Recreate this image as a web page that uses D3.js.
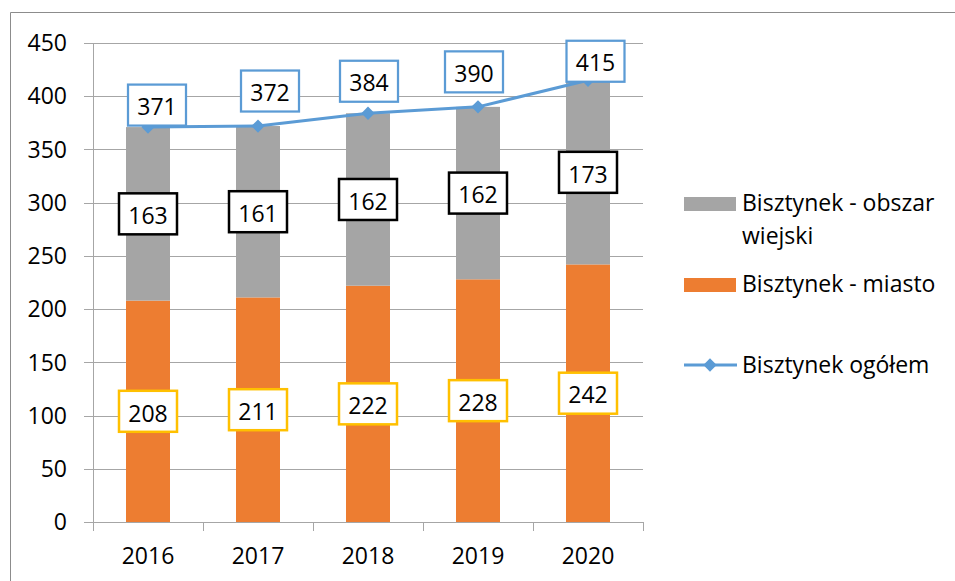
<!DOCTYPE html>
<html>
<head>
<meta charset="utf-8">
<script src="https://cdn.jsdelivr.net/npm/d3@7/dist/d3.min.js"></script>
<style>
  html, body { margin: 0; padding: 0; background: #fff; }
  svg { display: block; font-family: "Open Sans", "Noto Sans", sans-serif; }
</style>
</head>
<body>
<svg id="chart" width="955" height="581"></svg>
<script>
// Population of Bisztynek: town vs rural area, with the overall total
const years = ["2016", "2017", "2018", "2019", "2020"];
const miasto = [208, 211, 222, 228, 242];          // town
const obszarWiejski = [163, 161, 162, 162, 173];   // rural area
const ogolem = [371, 372, 384, 390, 415];          // total
const yTicks = [0, 50, 100, 150, 200, 250, 300, 350, 400, 450];

// legend entries; the rural name wraps onto two lines
const legendRural = ["Bisztynek - obszar", "wiejski"];
const legendTown = "Bisztynek - miasto";
const legendTotal = "Bisztynek ogółem";

// hand-placed offsets (px) of the total labels from their points
const totalLabelNudge = [[9, -22], [12, -35], [1, -32], [-4, -35], [7.5, -19]];

const colors = {
  rural: "#A5A5A5",
  town: "#ED7D31",
  total: "#5B9BD5",
  grid: "#A6A6A6",
  frame: "#8C8C8C",
  ruralBox: "#000000",
  townBox: "#FFC000"
};

const svg = d3.select("#chart");
const fs = 23;

// outer chart frame (top and left edges visible)
svg.append("line").attr("x1", 10.5).attr("x2", 955).attr("y1", 12.5).attr("y2", 12.5)
  .attr("stroke", colors.frame).attr("stroke-width", 1);
svg.append("line").attr("x1", 10.5).attr("x2", 10.5).attr("y1", 12.5).attr("y2", 581)
  .attr("stroke", colors.frame).attr("stroke-width", 1);

const x = d3.scaleBand().domain(years).range([93, 643]).padding(0);
const y = d3.scaleLinear().domain([0, 450]).range([522, 43]);
const barW = x.bandwidth() * 0.4;
const cx = d => x(d) + x.bandwidth() / 2;

// horizontal gridlines with outside tick stubs
svg.append("g").selectAll("line").data(yTicks).join("line")
  .attr("x1", x.range()[0] - 9).attr("x2", x.range()[1])
  .attr("y1", d => Math.round(y(d)) + 0.5).attr("y2", d => Math.round(y(d)) + 0.5)
  .attr("stroke", colors.grid).attr("stroke-width", 1);

// value axis line
svg.append("line")
  .attr("x1", x.range()[0] + 0.5).attr("x2", x.range()[0] + 0.5)
  .attr("y1", y(450)).attr("y2", y(0))
  .attr("stroke", colors.grid);

// value axis labels
svg.append("g").selectAll("text").data(yTicks).join("text")
  .attr("x", 67).attr("y", d => y(d) + fs * 0.357)
  .attr("text-anchor", "end").attr("font-size", fs).attr("fill", "#000")
  .text(d => d);

// category axis tick marks at band boundaries
const bounds = years.map(d => x(d)).concat([x.range()[1]]);
svg.append("g").selectAll("line").data(bounds).join("line")
  .attr("x1", d => Math.round(d) + 0.5).attr("x2", d => Math.round(d) + 0.5)
  .attr("y1", y(0)).attr("y2", y(0) + 9)
  .attr("stroke", colors.grid);

// category labels
svg.append("g").selectAll("text").data(years).join("text")
  .attr("x", d => cx(d)).attr("y", 564)
  .attr("text-anchor", "middle").attr("font-size", fs).attr("fill", "#000")
  .text(d => d);

// stacked bars
const rows = years.map((yr, i) => ({ yr, town: miasto[i], rural: obszarWiejski[i], total: ogolem[i], i }));

svg.append("g").selectAll("rect").data(rows).join("rect")
  .attr("x", d => cx(d.yr) - barW / 2).attr("width", barW)
  .attr("y", d => y(d.town)).attr("height", d => y(0) - y(d.town))
  .attr("fill", colors.town);

svg.append("g").selectAll("rect").data(rows).join("rect")
  .attr("x", d => cx(d.yr) - barW / 2).attr("width", barW)
  .attr("y", d => y(d.town + d.rural)).attr("height", d => y(d.town) - y(d.town + d.rural))
  .attr("fill", colors.rural);

// total line with diamond markers
const line = d3.line().x(d => cx(d.yr)).y(d => y(d.total));
svg.append("path").datum(rows)
  .attr("d", line).attr("fill", "none")
  .attr("stroke", colors.total).attr("stroke-width", 3).attr("stroke-linejoin", "round");

const diamondPath = d3.symbol().type(d3.symbolSquare).size(88);
svg.append("g").selectAll("path").data(rows).join("path")
  .attr("transform", d => `translate(${cx(d.yr)},${y(d.total)}) rotate(45)`)
  .attr("d", diamondPath)
  .attr("fill", colors.total);

// boxed data labels
const boxW = 58, boxH = 41;
function boxLabel(g, cxp, cyp, text, stroke, sw) {
  g.append("rect")
    .attr("x", cxp - boxW / 2).attr("y", cyp - boxH / 2)
    .attr("width", boxW).attr("height", boxH)
    .attr("fill", "#fff").attr("stroke", stroke).attr("stroke-width", sw);
  g.append("text")
    .attr("x", cxp).attr("y", cyp + fs * 0.357 + 2)
    .attr("text-anchor", "middle").attr("font-size", fs).attr("fill", "#000")
    .text(text);
}

const labels = svg.append("g");
rows.forEach(d => {
  boxLabel(labels, cx(d.yr), (y(0) + y(d.town)) / 2, d.town, colors.townBox, 2.5);
  boxLabel(labels, cx(d.yr), (y(d.town) + y(d.town + d.rural)) / 2, d.rural, colors.ruralBox, 2.5);
  const [dx, dy] = totalLabelNudge[d.i];
  boxLabel(labels, cx(d.yr) + dx, y(d.total) + dy, d.total, colors.total, 2.25);
});

// legend
const lg = svg.append("g").attr("font-size", fs).attr("fill", "#000");
lg.append("rect").attr("x", 684).attr("y", 197).attr("width", 52).attr("height", 14).attr("fill", colors.rural);
lg.append("text").attr("x", 742).attr("y", 211).text(legendRural[0]);
lg.append("text").attr("x", 742).attr("y", 244).text(legendRural[1]);

lg.append("rect").attr("x", 684).attr("y", 278).attr("width", 52).attr("height", 14).attr("fill", colors.town);
lg.append("text").attr("x", 742).attr("y", 292).text(legendTown);

lg.append("line").attr("x1", 684).attr("x2", 737).attr("y1", 365).attr("y2", 365)
  .attr("stroke", colors.total).attr("stroke-width", 3);
lg.append("path").attr("transform", "translate(710,365) rotate(45)")
  .attr("d", diamondPath).attr("fill", colors.total);
lg.append("text").attr("x", 742).attr("y", 373).text(legendTotal);
</script>
</body>
</html>
